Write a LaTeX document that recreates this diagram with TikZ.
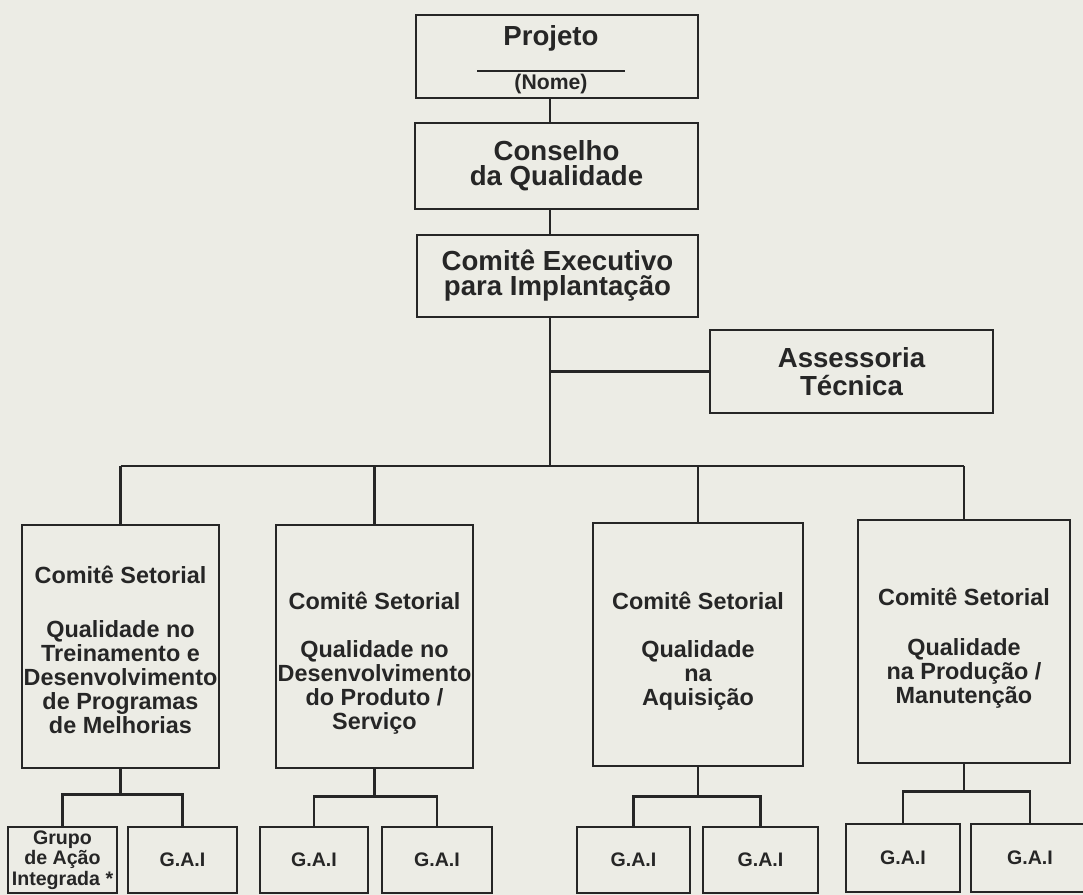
\documentclass[tikz,border=0pt]{standalone}
\usepackage{fontspec}
\setmainfont{Liberation Sans}
\definecolor{paper}{RGB}{236,236,229}
\definecolor{ink}{RGB}{38,38,38}

\tikzset{
  orgbox/.style={draw=ink, line width=1.4pt, fill=paper, inner sep=0pt},
  toptext/.style={text=ink, align=center, font=\bfseries\fontsize{13.8}{12.5}\selectfont},
  sectext/.style={text=ink, align=center, font=\bfseries\fontsize{11.7}{12}\selectfont},
  gaitext/.style={text=ink, align=center, font=\bfseries\fontsize{9.8}{8.75}\selectfont},
  link/.style={draw=ink, line width=1.1pt},
}

\begin{document}
\begin{tikzpicture}[x=0.5pt, y=-0.5pt]
	\fill [paper] (0, 0) rectangle (1083, 895);
	\clip (0, 0) rectangle (1083, 895);

	% top of the chart
	\node [orgbox, minimum width=141pt, minimum height=41.5pt] (proj) at (557, 56.5) {};
	\node [toptext] (projtitle) at (551, 38) {Projeto};
	\draw [link] (477, 71) -- (625, 71);
	\node [text=ink, font=\bfseries\fontsize{10.6}{12}\selectfont] (projname) at (551, 84) {(Nome)};

	\node [orgbox, toptext, minimum width=141.5pt, minimum height=43pt] (cons) at (556.5, 166)
	{Conselho\\da Qualidade};
	\node [orgbox, toptext, minimum width=140.5pt, minimum height=41pt] (exec) at (557.5, 276)
	{Comitê Executivo\\para Implantação};
	\node [orgbox, toptext, minimum width=141.5pt, minimum height=41.5pt] (asse) at (851.5, 371.5)
	{Assessoria\\[1.5pt]Técnica};

	% sector committees
	\node [orgbox, minimum width=98.5pt, minimum height=121.5pt] (cs1) at (120.5, 646.5) {};
	\node [sectext] at ([yshift=-1.75pt]cs1.center)
	{Comitê Setorial\\[15pt]Qualidade no\\Treinamento e\\Desenvolvimento\\de Programas\\de Melhorias};

	\node [orgbox, minimum width=98.5pt, minimum height=121.5pt] (cs2) at (374.5, 646.5) {};
	\node [sectext] at ([yshift=-8.5pt]cs2.center)
	{Comitê Setorial\\[12pt]Qualidade no\\Desenvolvimento\\do Produto /\\Serviço};

	\node [orgbox, minimum width=105pt, minimum height=121.5pt] (cs3) at (698, 644.5) {};
	\node [sectext] at ([yshift=-3.5pt]cs3.center)
	{Comitê Setorial\\[12pt]Qualidade\\na\\Aquisição};

	\node [orgbox, minimum width=106pt, minimum height=121.5pt] (cs4) at (964, 641.5) {};
	\node [sectext] at ([yshift=-3.5pt]cs4.center)
	{Comitê Setorial\\[13pt]Qualidade\\na Produção /\\Manutenção};

	% integrated action groups
	\node [orgbox, gaitext, minimum width=54.5pt, minimum height=33pt] (g11) at (62.5, 860)
	{Grupo\\de Ação\\Integrada *};
	\node [orgbox, gaitext, minimum width=54.5pt, minimum height=33pt] (g12) at (182.5, 860) {G.A.I};
	\node [orgbox, gaitext, minimum width=54pt, minimum height=33pt] (g21) at (314, 860) {G.A.I};
	\node [orgbox, gaitext, minimum width=55pt, minimum height=33pt] (g22) at (437, 860) {G.A.I};
	\node [orgbox, gaitext, minimum width=56.5pt, minimum height=33pt] (g31) at (633.5, 860) {G.A.I};
	\node [orgbox, gaitext, minimum width=57.5pt, minimum height=33pt] (g32) at (760.5, 860) {G.A.I};
	\node [orgbox, gaitext, minimum width=57pt, minimum height=34pt] (g41) at (903, 858) {G.A.I};
	\node [orgbox, gaitext, minimum width=59pt, minimum height=34pt] (g42) at (1030, 858) {G.A.I};

	% connectors
	\coordinate (trunk) at (550, 466);
	\draw [link] (proj.south -| trunk) -- (cons.north -| trunk);
	\draw [link] (cons.south -| trunk) -- (exec.north -| trunk);
	\draw [link] (exec.south -| trunk) -- (trunk);
	\draw [link] (asse.west) -- (asse.west -| trunk);

	\draw [link] (cs1.north |- trunk) -- (cs4.north |- trunk);
	\draw [link] (cs1.north) -- (cs1.north |- trunk);
	\draw [link] (cs2.north) -- (cs2.north |- trunk);
	\draw [link] (cs3.north) -- (cs3.north |- trunk);
	\draw [link] (cs4.north) -- (cs4.north |- trunk);

	\draw [link] (cs1.south) -- ++(0, 25) coordinate (j1);
	\draw [link] (g11.north) |- (j1) -| (g12.north);
	\draw [link] (cs2.south) -- ++(0, 27) coordinate (j2);
	\draw [link] (g21.north) |- (j2) -| (g22.north);
	\draw [link] (cs3.south) -- ++(0, 29) coordinate (j3);
	\draw [link] (g31.north) |- (j3) -| (g32.north);
	\draw [link] (cs4.south) -- ++(0, 27) coordinate (j4);
	\draw [link] (g41.north) |- (j4) -| (g42.north);
\end{tikzpicture}
\end{document}
